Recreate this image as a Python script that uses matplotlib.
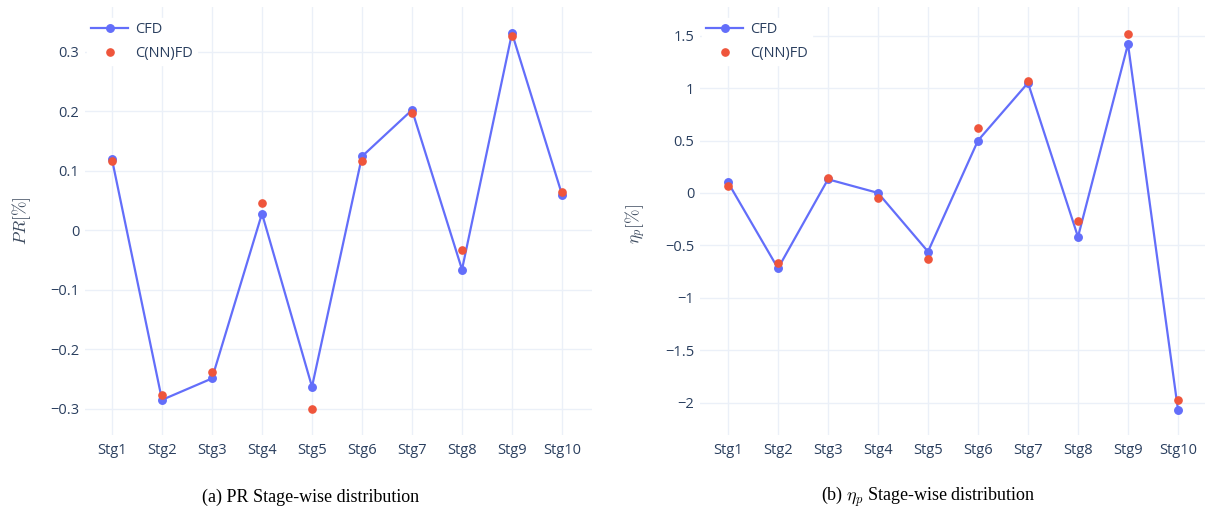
import matplotlib
matplotlib.use("Agg")
import matplotlib.pyplot as plt
from matplotlib.ticker import FixedLocator, FuncFormatter

stages = ["Stg1", "Stg2", "Stg3", "Stg4", "Stg5", "Stg6", "Stg7", "Stg8", "Stg9", "Stg10"]

pr_cfd = [0.119, -0.285, -0.249, 0.028, -0.263, 0.124, 0.202, -0.066, 0.331, 0.060]
pr_nn = [0.117, -0.276, -0.238, 0.046, -0.300, 0.116, 0.197, -0.034, 0.326, 0.065]

eta_cfd = [0.10, -0.72, 0.13, 0.00, -0.56, 0.50, 1.05, -0.42, 1.42, -2.07]
eta_nn = [0.07, -0.67, 0.14, -0.05, -0.63, 0.62, 1.07, -0.27, 1.52, -1.98]

pr_ticks = [-0.3, -0.2, -0.1, 0, 0.1, 0.2, 0.3]
eta_ticks = [-2, -1.5, -1, -0.5, 0, 0.5, 1, 1.5]

plt.rcParams["mathtext.fontset"] = "cm"

BLUE = "#636EFA"
RED = "#EF553B"
GRID = "#EBF0F8"
TXT = "#2a3f5f"
W, H = 1208, 511
FS = 10.5

fig = plt.figure(figsize=(W / 100, H / 100), dpi=100)


def fmt(v, pos):
    s = ("%g" % v)
    return s.replace("-", "\u2212")


def make_axes(left_px, right_px, xlim, ylim, ticks, cfd, nn):
    top_px, bot_px = 7, 435
    ax = fig.add_axes([left_px / W, 1 - bot_px / H, (right_px - left_px) / W, (bot_px - top_px) / H])
    x = list(range(len(stages)))
    ax.plot(x, cfd, color=BLUE, lw=1.6, marker="o", ms=5.4, label="CFD", zorder=3)
    ax.plot(x, nn, ls="none", color=RED, marker="o", ms=5.2, label="C(NN)FD", zorder=4)
    ax.set_xlim(*xlim)
    ax.set_ylim(*ylim)
    ax.set_xticks(x)
    ax.set_xticklabels(stages)
    ax.yaxis.set_major_locator(FixedLocator(ticks))
    ax.yaxis.set_major_formatter(FuncFormatter(fmt))
    for s in ax.spines.values():
        s.set_visible(False)
    ax.grid(True, color=GRID, lw=1.0, zorder=0)
    ax.set_axisbelow(True)
    ax.tick_params(length=0, labelsize=FS, labelcolor=TXT, pad=4)
    ax.tick_params(axis="x", pad=6)
    for t in ax.get_xticklabels() + ax.get_yticklabels():
        t.set_fontfamily("Open Sans")
    leg = ax.legend(loc="upper left", bbox_to_anchor=(0.004, 0.975), borderaxespad=0,
                    frameon=True, fancybox=False, framealpha=1.0, edgecolor="white",
                    facecolor="white", handlelength=2.5, handletextpad=0.5,
                    labelspacing=0.6, borderpad=0.3, prop={"family": "Open Sans", "size": FS})
    for t in leg.get_texts():
        t.set_color(TXT)
    return ax


ax1 = make_axes(85, 592, (-0.54, 9.6), (-0.344, 0.375), pr_ticks, pr_cfd, pr_nn)
ax2 = make_axes(700, 1205, (-0.56, 9.54), (-2.31, 1.774), eta_ticks, eta_cfd, eta_nn)

fig.text(22 / W, 1 - 221 / H, r"$PR[\%]$", rotation=90, ha="center", va="center",
         fontsize=12.5, color="#3c4a5e")
fig.text(636 / W, 1 - 224 / H, r"$\eta_p[\%]$", rotation=90, ha="center", va="center",
         fontsize=12.5, color="#3c4a5e")

fig.text(311 / W, 1 - 497 / H, "(a) PR Stage-wise distribution", ha="center", va="center",
         fontsize=13, family="Liberation Serif", color="black")
fig.text(928 / W, 1 - 497 / H, r"(b) $\eta_p$ Stage-wise distribution", ha="center", va="center",
         fontsize=13, family="Liberation Serif", color="black")

fig.savefig("out.png", dpi=100, facecolor="white")
